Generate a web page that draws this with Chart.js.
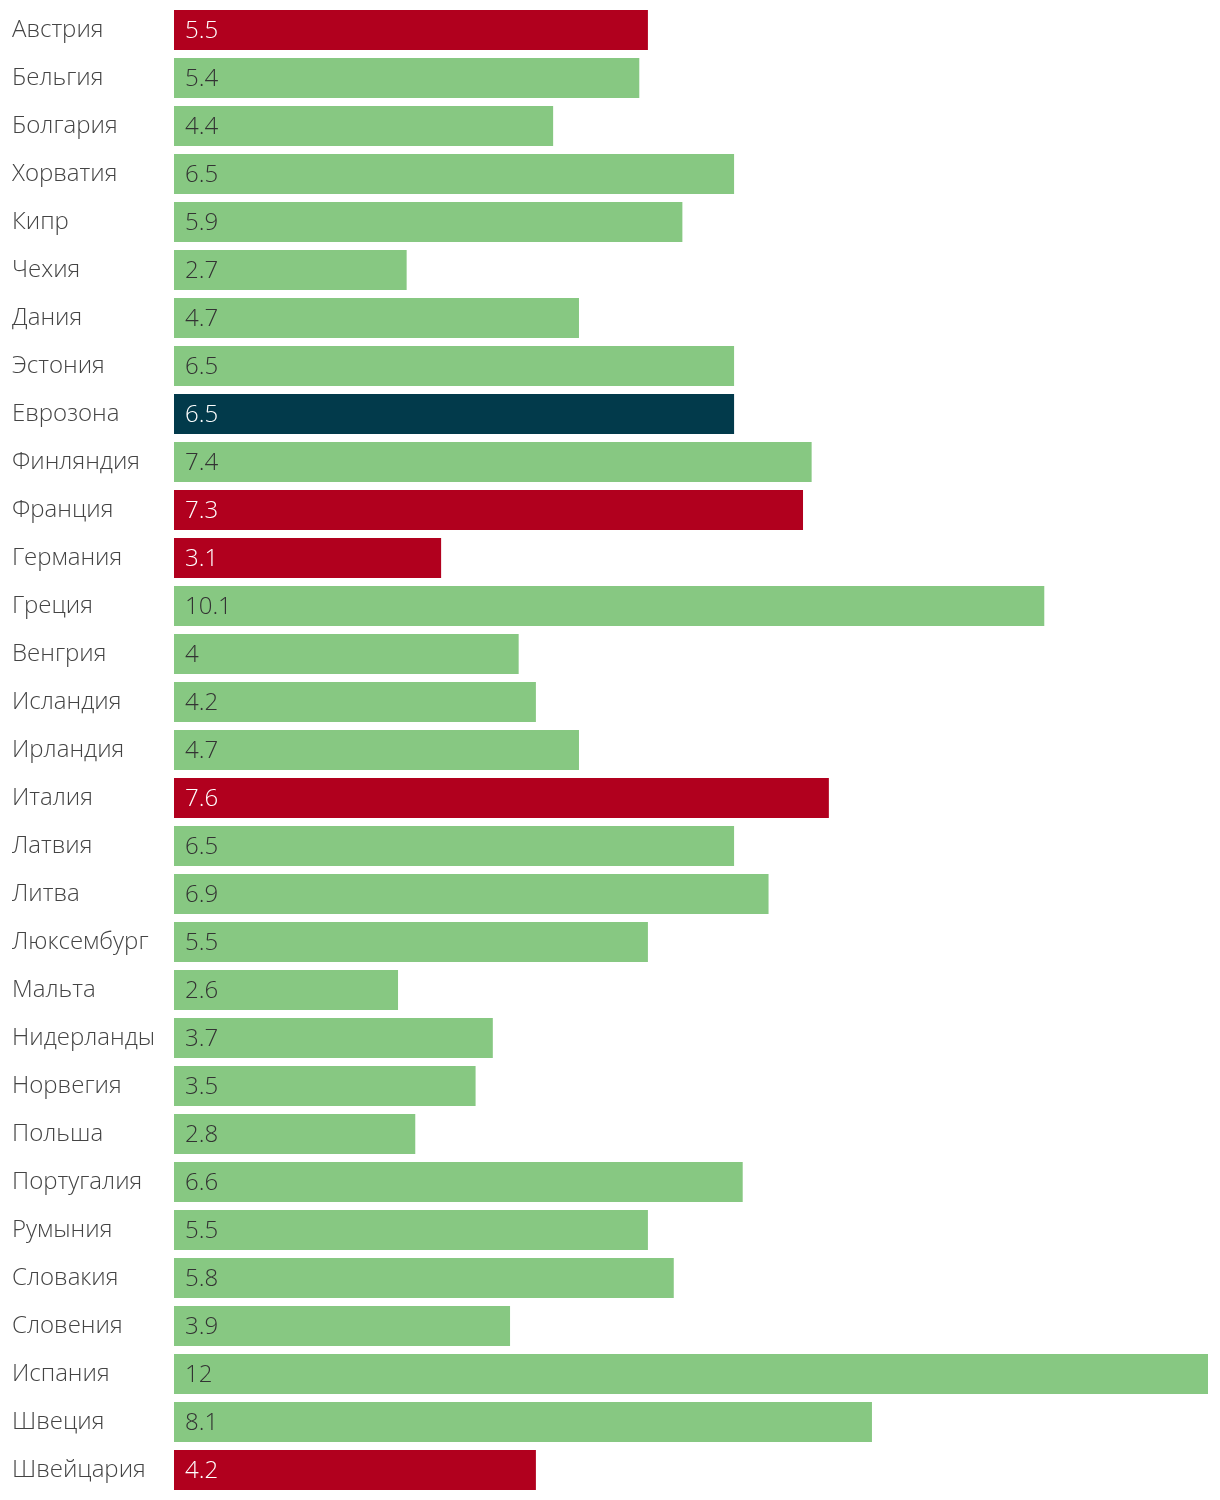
<!DOCTYPE html>
<html lang="ru">

<head>
    <meta charset="UTF-8" />
    <title>Безработица по странам</title>
    <script src="https://cdn.jsdelivr.net/npm/chart.js"></script>
    <style>
        body {
            margin: 0;
            padding: 0;
            background: #fff;
        }

        .chart-box {
            position: relative;
            width: 1220px;
            height: 1500px;
        }
    </style>
</head>

<body>
    <div class="chart-box">
        <canvas id="barChart"></canvas>
    </div>

    <script>
        // Data
        const countries = [
            'Австрия', 'Бельгия', 'Болгария', 'Хорватия', 'Кипр', 'Чехия', 'Дания', 'Эстония',
            'Еврозона', 'Финляндия', 'Франция', 'Германия', 'Греция', 'Венгрия', 'Исландия',
            'Ирландия', 'Италия', 'Латвия', 'Литва', 'Люксембург', 'Мальта', 'Нидерланды',
            'Норвегия', 'Польша', 'Португалия', 'Румыния', 'Словакия', 'Словения', 'Испания',
            'Швеция', 'Швейцария'
        ];
        const rates = [
            5.5, 5.4, 4.4, 6.5, 5.9, 2.7, 4.7, 6.5,
            6.5, 7.4, 7.3, 3.1, 10.1, 4, 4.2,
            4.7, 7.6, 6.5, 6.9, 5.5, 2.6, 3.7,
            3.5, 2.8, 6.6, 5.5, 5.8, 3.9, 12,
            8.1, 4.2
        ];
        const highlighted = ['Австрия', 'Франция', 'Германия', 'Италия', 'Швейцария'];
        const average = ['Еврозона'];

        const RED = '#b1001e';
        const GREEN = '#87c882';
        const NAVY = '#023a4b';
        const FONT = '"Open Sans", sans-serif';

        const barColors = countries.map(c =>
            highlighted.includes(c) ? RED : (average.includes(c) ? NAVY : GREEN));

        // Writes each value inside its bar, near the left end
        const valueLabels = {
            id: 'valueLabels',
            afterDatasetsDraw(chart) {
                const ctx = chart.ctx;
                const meta = chart.getDatasetMeta(0);
                ctx.save();
                ctx.font = '300 24px ' + FONT;
                ctx.textBaseline = 'middle';
                ctx.textAlign = 'left';
                meta.data.forEach((bar, i) => {
                    ctx.fillStyle = barColors[i] === GREEN ? '#333333' : '#ffffff';
                    ctx.fillText(String(rates[i]), bar.base + 11, bar.y + 1);
                });
                ctx.restore();
            }
        };

        new Chart(document.getElementById('barChart'), {
            type: 'bar',
            data: {
                labels: countries,
                datasets: [{
                    data: rates,
                    backgroundColor: barColors,
                    borderWidth: 0,
                    barPercentage: 40 / 48,
                    categoryPercentage: 1
                }]
            },
            options: {
                indexAxis: 'y',
                responsive: true,
                maintainAspectRatio: false,
                animation: false,
                layout: {
                    padding: { left: 12, right: 12, top: 6, bottom: 6 }
                },
                scales: {
                    x: {
                        display: false,
                        min: 0,
                        max: 12
                    },
                    y: {
                        grid: { display: false },
                        border: { display: false },
                        ticks: {
                            crossAlign: 'far',
                            color: '#444444',
                            padding: 0,
                            font: { family: FONT, size: 24, weight: 300 }
                        },
                        afterFit(scale) {
                            scale.width = 162;
                            // labels must not push the plot area inwards
                            scale.paddingTop = 0;
                            scale.paddingBottom = 0;
                        }
                    }
                },
                plugins: {
                    legend: { display: false },
                    tooltip: { enabled: false }
                }
            },
            plugins: [valueLabels]
        });
    </script>
</body>

</html>
